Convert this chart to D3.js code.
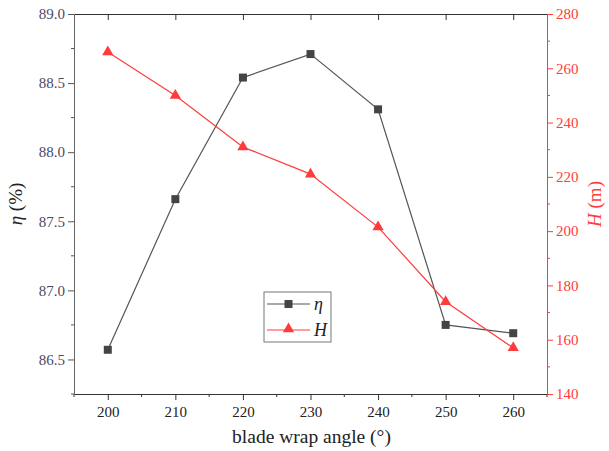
<!DOCTYPE html>
<html>
<head>
<meta charset="utf-8">
<script src="https://cdn.jsdelivr.net/npm/d3@7"></script>
<style>
  body { margin: 0; background: #fff; }
  text { font-family: "Liberation Serif", "Times New Roman", serif; }
</style>
</head>
<body>
<div id="chart"></div>
<script>
// data
var angles = [200, 210, 220, 230, 240, 250, 260];
var eta = [86.57, 87.66, 88.54, 88.71, 88.31, 86.75, 86.69];
var head = [266, 250, 231, 221, 201.5, 174, 157];
var xTicks = [200, 210, 220, 230, 240, 250, 260];
var etaTicks = [86.5, 87.0, 87.5, 88.0, 88.5, 89.0];
var headTicks = [140, 160, 180, 200, 220, 240, 260, 280];

var width = 609, height = 451;
// plot frame (note: "top" is reserved on window, so use p* names)
var pLeft = 74, pRight = 547, pTop = 14, pBottom = 394;
var red = "#ff3b3b";

var svg = d3.select("#chart").append("svg")
    .attr("width", width)
    .attr("height", height);

var x = d3.scaleLinear().domain([195, 265]).range([pLeft, pRight]);
var yL = d3.scaleLinear().domain([86.25, 89.0]).range([pBottom, pTop]);
var yR = d3.scaleLinear().domain([140, 280]).range([pBottom, pTop]);

// minor ticks helper
function minor(g, pos, horizontal, len, color) {
    pos.forEach(function (p) {
        if (horizontal) g.append("line").attr("x1", p).attr("x2", p).attr("y1", 0).attr("y2", len).attr("stroke", color);
        else g.append("line").attr("y1", p).attr("y2", p).attr("x1", 0).attr("x2", len).attr("stroke", color);
    });
}

// bottom axis
var gx = svg.append("g").attr("transform", "translate(0," + pBottom + ")")
    .call(d3.axisBottom(x).tickValues(xTicks).tickFormat(d3.format("d")).tickSize(6).tickSizeOuter(0));
minor(gx, d3.range(195, 266, 10).map(x), true, 3, "#333");
gx.select(".domain").attr("stroke", "#333");
gx.selectAll(".tick line").attr("stroke", "#333");
gx.selectAll(".tick text").attr("font-size", 15).attr("fill", "#222").attr("dy", "0.95em");

// top axis (ticks inward)
var gt = svg.append("g").attr("transform", "translate(0," + pTop + ")")
    .call(d3.axisBottom(x).tickValues(xTicks).tickFormat("").tickSize(6).tickSizeOuter(0));
gt.select(".domain").attr("stroke", "#333");
gt.selectAll(".tick line").attr("stroke", "#333");

// left axis
var gl = svg.append("g").attr("transform", "translate(" + pLeft + ",0)")
    .call(d3.axisLeft(yL).tickValues(etaTicks).tickFormat(d3.format(".1f")).tickSize(6).tickSizeOuter(0));
minor(gl, [86.25, 86.75, 87.25, 87.75, 88.25, 88.75].map(yL), false, -3, "#555");
gl.select(".domain").attr("stroke", "#666");
gl.selectAll(".tick line").attr("stroke", "#555");
gl.selectAll(".tick text").attr("font-size", 15).attr("fill", "#4a4a66");

// right axis
var gr = svg.append("g").attr("transform", "translate(" + pRight + ",0)")
    .call(d3.axisRight(yR).tickValues(headTicks).tickSize(6).tickSizeOuter(0));
minor(gr, d3.range(150, 280, 20).map(yR), false, 3, red);
gr.select(".domain").attr("stroke", red);
gr.selectAll(".tick line").attr("stroke", red);
gr.selectAll(".tick text").attr("font-size", 15).attr("fill", red);

// axis titles
svg.append("text")
    .attr("x", (pLeft + pRight) / 2 + 1).attr("y", 443)
    .attr("text-anchor", "middle").attr("font-size", 19.5).attr("fill", "#222")
    .text("blade wrap angle (°)");

var tl = svg.append("text")
    .attr("transform", "translate(22," + (pTop + pBottom) / 2 + ") rotate(-90)")
    .attr("text-anchor", "middle").attr("font-size", 19).attr("fill", "#222");
tl.append("tspan").attr("font-style", "italic").text("η");
tl.append("tspan").text(" (%)");

var tr = svg.append("text")
    .attr("transform", "translate(601," + (pTop + pBottom) / 2 + ") rotate(-90)")
    .attr("text-anchor", "middle").attr("font-size", 19).attr("fill", red);
tr.append("tspan").attr("font-style", "italic").text("H");
tr.append("tspan").text(" (m)");

// eta series
var etaLine = d3.line().x(function (d, i) { return x(angles[i]); }).y(function (d) { return yL(d); });
svg.append("path").datum(eta).attr("d", etaLine)
    .attr("fill", "none").attr("stroke", "#555").attr("stroke-width", 1.2);
svg.selectAll(".sq").data(eta).enter().append("rect")
    .attr("x", function (d, i) { return x(angles[i]) - 4; })
    .attr("y", function (d) { return yL(d) - 4; })
    .attr("width", 8).attr("height", 8).attr("fill", "#444");

// head series
var headLine = d3.line().x(function (d, i) { return x(angles[i]); }).y(function (d) { return yR(d); });
svg.append("path").datum(head).attr("d", headLine)
    .attr("fill", "none").attr("stroke", red).attr("stroke-width", 1.2);
var tri = d3.symbol().type(d3.symbolTriangle).size(55);
svg.selectAll(".tri").data(head).enter().append("path")
    .attr("d", tri)
    .attr("transform", function (d, i) { return "translate(" + x(angles[i]) + "," + yR(d) + ")"; })
    .attr("fill", red);

// legend
var lg = svg.append("g").attr("transform", "translate(264,292)");
lg.append("rect").attr("width", 67).attr("height", 50)
    .attr("fill", "#fff").attr("stroke", "#777");
lg.append("line").attr("x1", 3).attr("x2", 46).attr("y1", 12).attr("y2", 12).attr("stroke", "#555").attr("stroke-width", 1.2);
lg.append("rect").attr("x", 20.5).attr("y", 8).attr("width", 8).attr("height", 8).attr("fill", "#444");
lg.append("text").attr("x", 50).attr("y", 18).attr("font-size", 18).attr("font-style", "italic").attr("fill", "#222").text("η");
lg.append("line").attr("x1", 3).attr("x2", 46).attr("y1", 38).attr("y2", 38).attr("stroke", red).attr("stroke-width", 1.2);
lg.append("path").attr("d", tri).attr("transform", "translate(24.5,37)").attr("fill", red);
lg.append("text").attr("x", 50).attr("y", 44).attr("font-size", 18).attr("font-style", "italic").attr("fill", "#222").text("H");
</script>
</body>
</html>
